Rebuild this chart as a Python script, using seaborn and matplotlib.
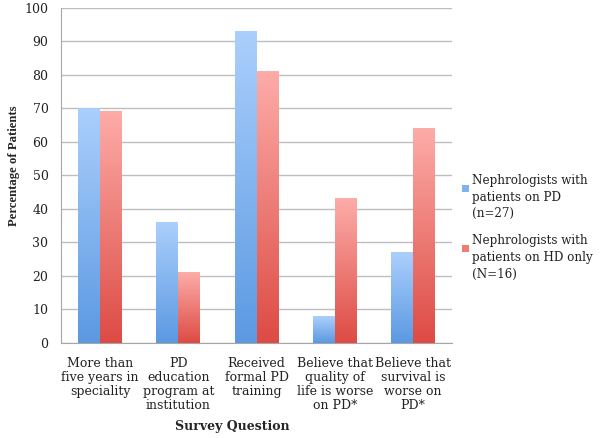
import numpy as np
import pandas as pd
import seaborn as sns
import matplotlib.pyplot as plt
from matplotlib.colors import LinearSegmentedColormap
from matplotlib.patches import Rectangle
from matplotlib.legend_handler import HandlerPatch

questions = ["More than\nfive years in\nspeciality",
             "PD\neducation\nprogram at\ninstitution",
             "Received\nformal PD\ntraining",
             "Believe that\nquality of\nlife is worse\non PD*",
             "Believe that\nsurvival is\nworse on\nPD*"]
pd_group = [70, 36, 93, 8, 27]
hd_group = [69, 21, 81, 43, 64]
series = ["Nephrologists with\npatients on PD\n(n=27)",
          "Nephrologists with\npatients on HD only\n(N=16)"]

df = pd.DataFrame({
    "question": questions * 2,
    "pct": pd_group + hd_group,
    "group": [series[0]] * 5 + [series[1]] * 5,
})

sns.set_style("white")
plt.rcParams["font.family"] = ["DejaVu Serif"]
plt.rcParams["text.color"] = "#222222"

fig = plt.figure(figsize=(6.03, 4.38), dpi=100)
ax = fig.add_axes([0.101, 0.217, 0.649, 0.765])

sns.barplot(data=df, x="question", y="pct", hue="group", order=questions,
            hue_order=series, palette=["#7fb2ef", "#f07c76"], width=0.56,
            saturation=1, ax=ax, zorder=3)

# gradient fill, light at the top, darker at the bottom
cmaps = [LinearSegmentedColormap.from_list("b", ["#5b99e2", "#abcffc"]),
         LinearSegmentedColormap.from_list("r", ["#dd4b44", "#fdaca8"])]
grad = np.linspace(0, 1, 256).reshape(-1, 1)
for cont, cm in zip(ax.containers, cmaps):
    for bar in cont:
        x, y = bar.get_x(), bar.get_y()
        w, h = bar.get_width(), bar.get_height()
        ax.imshow(grad, extent=[x, x + w, y, y + h], origin="lower",
                  cmap=cm, aspect="auto", zorder=3)
        bar.set_alpha(0)

ax.set_xlim(-0.5, 4.5)
ax.set_ylim(0, 100)
ax.set_yticks(range(0, 101, 10))
ax.yaxis.grid(True, color="#bdbdbd", lw=1)
ax.set_axisbelow(True)
for s in ["top", "right"]:
    ax.spines[s].set_visible(False)
for s in ["left", "bottom"]:
    ax.spines[s].set_color("#a6a6a6")
ax.tick_params(axis="y", length=4, color="#a6a6a6", labelsize=9, pad=5,
               labelcolor="#222222")
ax.tick_params(axis="x", length=0, labelsize=9, pad=10, labelcolor="#222222")
for t in ax.get_xticklabels():
    t.set_linespacing(1.1)

ax.set_xlabel("Survey Question", fontsize=9, fontweight="bold")
ax.xaxis.set_label_coords(0.437, -0.23)
ax.set_ylabel("Percentage of Patients", fontsize=9.2, fontweight="bold",
              family="Liberation Serif")
ax.yaxis.set_label_coords(-0.105, 0.53)


def top_square(legend, orig_handle, xdescent, ydescent, width, height, fontsize):
    s = 0.55 * fontsize
    return Rectangle((-xdescent, -ydescent + height - s * 1.35), s, s)


leg = ax.legend(loc="upper left", bbox_to_anchor=(0.757, 0.616),
                bbox_transform=fig.transFigure, frameon=False,
                fontsize=8.6, handlelength=0.6, handleheight=3.8,
                handletextpad=0.2, labelspacing=1.2, borderpad=0,
                handler_map={Rectangle: HandlerPatch(patch_func=top_square)})
for hnd, c in zip(leg.legend_handles, ["#7fb2ef", "#f07c76"]):
    hnd.set_alpha(1)
    hnd.set_facecolor(c)
    hnd.set_edgecolor("none")
for t in leg.get_texts():
    t.set_linespacing(1.35)

fig.savefig("out.png", dpi=100)
